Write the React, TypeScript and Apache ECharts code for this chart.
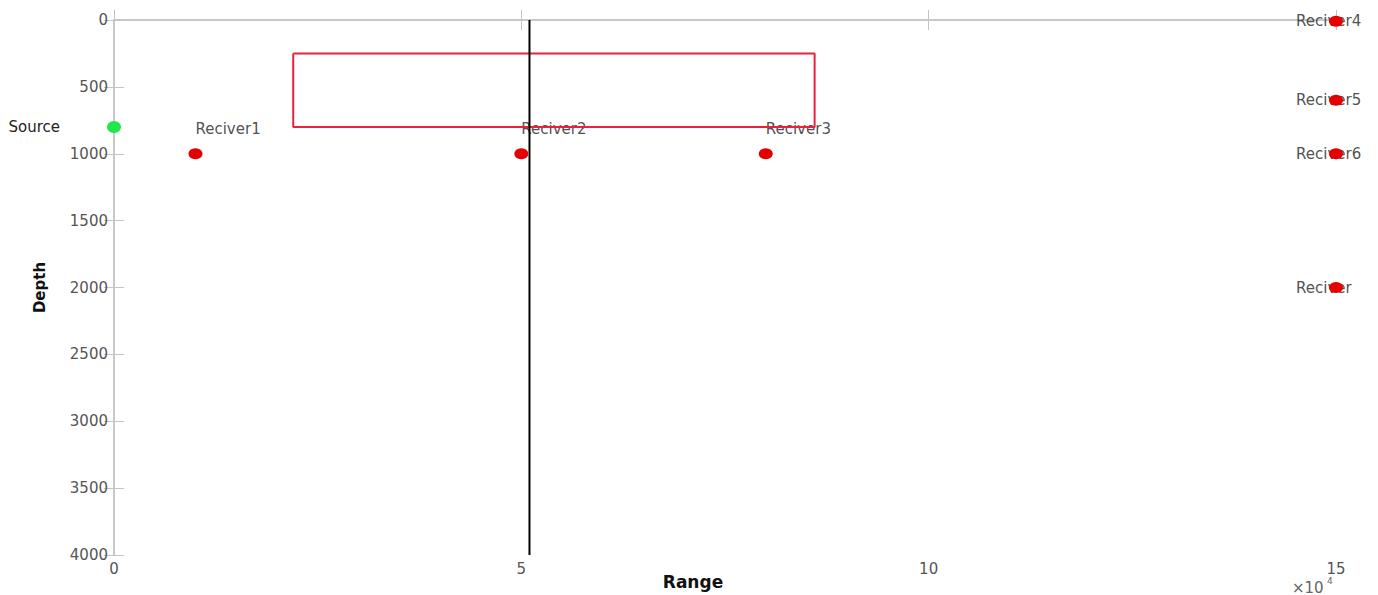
import React, { useEffect, useRef } from "react";
import * as echarts from "echarts";

const FONT = "DejaVu Sans";

const xTickValues = [0, 50000, 100000, 150000];
const yTickValues = [0, 500, 1000, 1500, 2000, 2500, 3000, 3500, 4000];

const sourceName = "Source";
const sourceRange = 0;
const sourceDepth = 800;

const receiverNames = ["Reciver1", "Reciver2", "Reciver3", "Reciver4", "Reciver5", "Reciver6", "Reciver"];
const receiverRange = [10000, 50000, 80000, 150000, 150000, 150000, 150000];
const receiverDepth = [1000, 1000, 1000, 10, 600, 1000, 2000];

const boxRange = [22000, 86000];
const boxDepth = [250, 800];

const dividerRange = 51000;
const dividerDepth = [0, 4000];

export default function App() {
  const ref = useRef<HTMLDivElement>(null);
  useEffect(() => {
    if (!ref.current) return;
    const chart = echarts.init(ref.current, null, { renderer: "svg" });
    const axisColor = "#c4c4c4";
    const labelStyle = { color: "#555", fontSize: 15, fontFamily: FONT };
    const xCommon = {
      type: "value" as const,
      min: xTickValues[0],
      max: xTickValues[xTickValues.length - 1],
      interval: xTickValues[1] - xTickValues[0],
      axisLine: { show: true, lineStyle: { color: axisColor, width: 1.5 } },
      axisTick: { show: true, inside: true, length: 10, lineStyle: { color: axisColor } },
      splitLine: { show: false },
    };
    const yCommon = {
      type: "value" as const,
      inverse: true,
      min: yTickValues[0],
      max: yTickValues[yTickValues.length - 1],
      interval: yTickValues[1] - yTickValues[0],
      axisLine: { show: true, lineStyle: { color: axisColor, width: 1.5 } },
      axisTick: { show: true, inside: true, length: 10, lineStyle: { color: axisColor } },
      splitLine: { show: false },
    };
    const receiverLabelData = receiverNames.map((n, i) => ({
      name: n,
      value: [receiverRange[i], receiverDepth[i]],
      label:
        i < 3
          ? { position: "top", distance: 17, align: "left" }
          : { position: "inside", align: "left", offset: [-40, 0] },
    }));
    const option = {
      animation: false,
      backgroundColor: "#fff",
      grid: { left: 114, width: 1222, top: 20, height: 535, containLabel: false, outerBoundsMode: "none" },
      xAxis: [
        {
          ...xCommon,
          position: "bottom",
          axisLabel: { ...labelStyle, margin: 6, formatter: (v: number) => String(v / 10000) },
          name: "Range",
          nameLocation: "middle",
          nameGap: 18,
          nameMoveOverlap: false,
          nameTextStyle: { color: "#111", fontSize: 17, fontWeight: "bold", fontFamily: FONT, padding: [0, 64, 0, 0] },
        },
        { ...xCommon, position: "top", axisLabel: { show: false } },
      ],
      yAxis: [
        {
          ...yCommon,
          position: "left",
          axisLabel: { ...labelStyle, margin: 6, formatter: (v: number) => String(v) },
          name: "Depth",
          nameLocation: "middle",
          nameGap: 67,
          nameMoveOverlap: false,
          nameTextStyle: { color: "#111", fontSize: 15, fontWeight: "bold", fontFamily: FONT },
        },
        { ...yCommon, position: "right", axisLabel: { show: false } },
      ],
      graphic: [
        { type: "text", left: 1292, top: 580, style: { text: "×10", fill: "#666", fontSize: 15, fontFamily: FONT } },
        { type: "text", left: 1327, top: 576, style: { text: "4", fill: "#666", fontSize: 9, fontFamily: FONT } },
      ],
      series: [
        {
          type: "line",
          data: [
            [boxRange[0], boxDepth[0]],
            [boxRange[1], boxDepth[0]],
            [boxRange[1], boxDepth[1]],
            [boxRange[0], boxDepth[1]],
            [boxRange[0], boxDepth[0]],
          ],
          symbol: "none",
          lineStyle: { color: "#e8213f", width: 2 },
          z: 3,
        },
        {
          type: "line",
          data: [
            [dividerRange, dividerDepth[0]],
            [dividerRange, dividerDepth[1]],
          ],
          symbol: "none",
          lineStyle: { color: "#000", width: 2 },
          z: 3,
        },
        {
          type: "scatter",
          data: receiverLabelData,
          symbolSize: 1,
          itemStyle: { color: "rgba(0,0,0,0)" },
          label: { show: true, formatter: "{b}", color: "#222", fontSize: 15, fontFamily: FONT },
          z: 2,
        },
        {
          type: "scatter",
          data: [{ name: sourceName, value: [sourceRange, sourceDepth] }],
          symbolSize: [14, 12],
          itemStyle: { color: "#1ee84a", opacity: 1 },
          label: { show: true, position: "left", distance: 47, formatter: "{b}", color: "#222", fontSize: 15, fontFamily: FONT },
          z: 5,
        },
        {
          type: "scatter",
          data: receiverNames.map((n, i) => ({ name: n, value: [receiverRange[i], receiverDepth[i]] })),
          symbolSize: [14, 11],
          itemStyle: { color: "#e40000", opacity: 1 },
          z: 5,
        },
      ],
    };
    chart.setOption(option as any);
    return () => chart.dispose();
  }, []);
  return (
    <div
      ref={ref}
      style={{ position: "fixed", left: 0, top: 0, width: 1378, height: 595, background: "#fff" }}
    />
  );
}
